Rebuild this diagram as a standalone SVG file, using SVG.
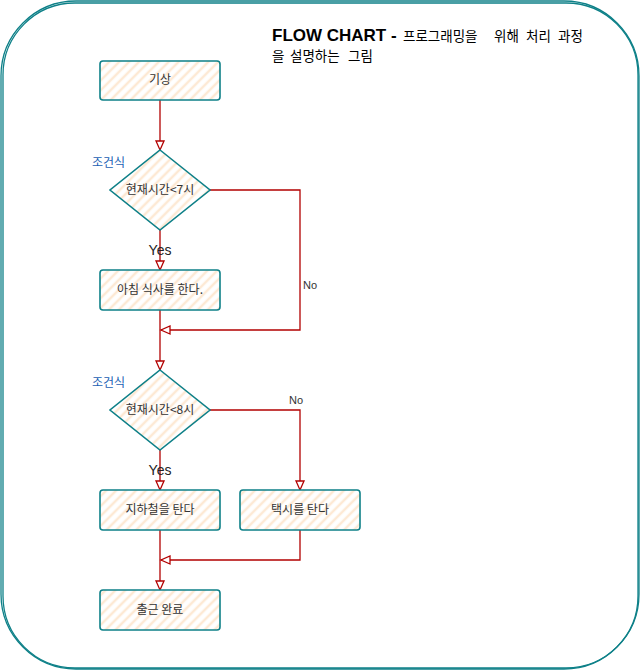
<svg xmlns="http://www.w3.org/2000/svg" width="641" height="671" viewBox="0 0 641 671">
<defs>
<pattern id="hatch" width="7" height="7" patternUnits="userSpaceOnUse" patternTransform="rotate(45)">
<rect width="7" height="7" fill="#ffffff"/>
<line x1="2" y1="0" x2="2" y2="7" stroke="#fde9d4" stroke-width="2.5"/>
</pattern>
<marker id="arr" markerWidth="12" markerHeight="12" refX="10" refY="5" orient="auto" markerUnits="userSpaceOnUse" viewBox="0 0 12 10">
<path d="M1,1 L10,5 L1,9 Z" fill="#ffffff" stroke="#b20000" stroke-width="1.3"/>
</marker>
</defs>
<style>
.frame{fill:none;stroke:#0e8088;stroke-width:1.3}
.node{fill:url(#hatch);stroke:#0e8088;stroke-width:1.6}
.lbl{font-family:"Noto Sans CJK KR","Noto Sans",sans-serif;font-size:12px;fill:#333333;text-anchor:middle}
.edge{fill:none;stroke:#b20000;stroke-width:1.3}
.el{font-family:"Liberation Sans",Arial,sans-serif;font-size:11px;fill:#333333}
.yes{font-family:"Liberation Sans",Arial,sans-serif;font-size:14px;fill:#222222;text-anchor:middle}
.cond{font-family:"Noto Sans CJK KR","Noto Sans",sans-serif;font-size:12px;fill:#1a5fb4}
.kt{font-family:"Noto Sans CJK KR",sans-serif;font-size:13.5px;fill:#000000}
</style>
<rect width="641" height="671" fill="#ffffff"/>
<g id="frame">
<rect class="frame" x="1" y="1" width="638" height="668" rx="75" ry="75"/>
<rect class="frame" x="3" y="3" width="635" height="665" rx="72" ry="72"/>
</g>
<g id="title">
<text x="272" y="41" font-family="Liberation Sans,Arial,sans-serif" font-size="17" font-weight="bold" fill="#000000">FLOW CHART - </text>
<text class="kt" y="41"><tspan x="403">프로그래밍을</tspan><tspan x="494">위해</tspan><tspan x="526">처리</tspan><tspan x="558">과정</tspan></text>
<text class="kt" y="61"><tspan x="272">을</tspan><tspan x="290">설명하는</tspan><tspan x="348">그림</tspan></text>
</g>
<g id="connectors">
<path class="edge" d="M160,100 L160,150" marker-end="url(#arr)"/>
<path class="edge" d="M160,230 L160,270" marker-end="url(#arr)"/>
<path class="edge" d="M210,190 L300,190 L300,330 L161,330" marker-end="url(#arr)"/>
<path class="edge" d="M160,310 L160,370" marker-end="url(#arr)"/>
<path class="edge" d="M210,410 L300,410 L300,490" marker-end="url(#arr)"/>
<path class="edge" d="M160,450 L160,490" marker-end="url(#arr)"/>
<path class="edge" d="M300,530 L300,560 L161,560" marker-end="url(#arr)"/>
<path class="edge" d="M160,530 L160,590" marker-end="url(#arr)"/>
<text class="yes" x="160" y="255">Yes</text>
<text class="yes" x="160" y="475">Yes</text>
<text class="el" x="303" y="289">No</text>
<text class="el" x="289" y="404">No</text>
</g>
<g id="n1"><rect class="node" x="100" y="61" width="120" height="39" rx="3"/><text class="lbl" x="160" y="84">기상</text></g>
<g id="d1"><path class="node" d="M160,150 L210,190 L160,230 L110,190 Z"/><text class="lbl" x="160" y="194">현재시간&lt;7시</text><text class="cond" x="92" y="167">조건식</text></g>
<g id="n2"><rect class="node" x="100" y="270" width="120" height="40" rx="3"/><text class="lbl" x="160" y="294">아침 식사를 한다.</text></g>
<g id="d2"><path class="node" d="M160,370 L210,410 L160,450 L110,410 Z"/><text class="lbl" x="160" y="414">현재시간&lt;8시</text><text class="cond" x="92" y="387">조건식</text></g>
<g id="n3"><rect class="node" x="100" y="490" width="120" height="40" rx="3"/><text class="lbl" x="160" y="514">지하철을 탄다</text></g>
<g id="n4"><rect class="node" x="240" y="490" width="120" height="40" rx="3"/><text class="lbl" x="300" y="514">택시를 탄다</text></g>
<g id="n5"><rect class="node" x="100" y="590" width="120" height="40" rx="3"/><text class="lbl" x="160" y="614">출근 완료</text></g>
</svg>
